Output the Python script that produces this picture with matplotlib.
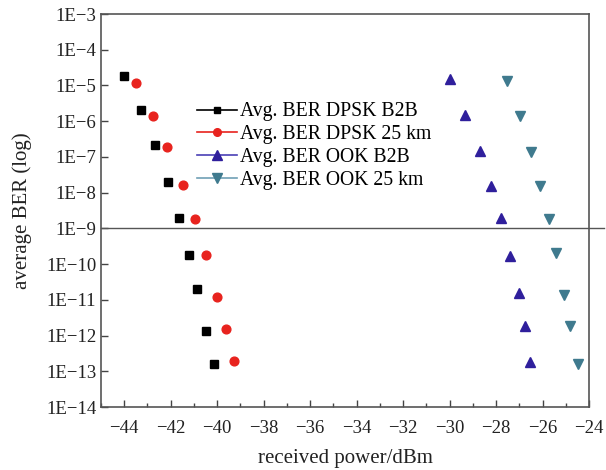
import math
import matplotlib
matplotlib.use("Agg")
import matplotlib.pyplot as plt
from matplotlib.lines import Line2D
from matplotlib.ticker import FixedLocator, FuncFormatter, MultipleLocator

plt.rcParams['font.family'] = ['Liberation Serif', 'DejaVu Serif']

# received power (dBm) and average BER
dpsk_b2b_x = [-43.99, -43.27, -42.66, -42.13, -41.66, -41.23, -40.87, -40.47, -40.15]
dpsk_b2b_y = [1.9e-5, 2.0e-6, 2.1e-7, 2.0e-8, 1.95e-9, 1.84e-10, 2.0e-11, 1.3e-12, 1.57e-13]

dpsk_25_x = [-43.50, -42.78, -42.15, -41.47, -40.97, -40.50, -39.99, -39.63, -39.29]
dpsk_25_y = [1.16e-5, 1.43e-6, 1.95e-7, 1.62e-8, 1.82e-9, 1.84e-10, 1.23e-11, 1.52e-12, 2.0e-13]

ook_b2b_x = [-29.98, -29.33, -28.71, -28.22, -27.79, -27.39, -27.00, -26.77, -26.56]
ook_b2b_y = [1.47e-5, 1.46e-6, 1.47e-7, 1.55e-8, 2.0e-9, 1.73e-10, 1.55e-11, 1.9e-12, 1.8e-13]

ook_25_x = [-27.52, -26.96, -26.49, -26.10, -25.74, -25.41, -25.09, -24.83, -24.47]
ook_25_y = [1.32e-5, 1.36e-6, 1.38e-7, 1.52e-8, 1.8e-9, 2.0e-10, 1.4e-11, 1.8e-12, 1.6e-13]

labels = ["Avg. BER DPSK B2B", "Avg. BER DPSK 25 km",
          "Avg. BER OOK B2B", "Avg. BER OOK 25 km"]
y_exps = list(range(-14, -2))
threshold = 1e-9

fig = plt.figure(figsize=(6.06, 4.70), dpi=100)
ax = fig.add_axes([0.1667, 0.134, 0.8053, 0.8362])

ax.plot(dpsk_b2b_x, dpsk_b2b_y, ls='none', marker='s', ms=5.3, color='black')
ax.plot(dpsk_25_x, dpsk_25_y, ls='none', marker='o', ms=6.3, color='#e8231e')
ax.plot(ook_b2b_x, ook_b2b_y, ls='none', marker='^', ms=7.2, color='#2f1f9c')
ax.plot(ook_25_x, ook_25_y, ls='none', marker='v', ms=7.2, color='#3f7a8e')

# 1E-9 reference line, runs a bit past the right spine
ax.plot([0, 1.03], [threshold, threshold], color='#555555', lw=1.0,
        transform=ax.get_yaxis_transform(), clip_on=False)

ax.set_yscale('log')
ax.set_xlim(-45, -24)
ax.set_ylim(1e-14, 1e-3)
ax.xaxis.set_major_locator(MultipleLocator(2))
ax.xaxis.set_minor_locator(MultipleLocator(1))
ax.xaxis.set_major_formatter(FuncFormatter(lambda v, p: f"\u2212{abs(int(v))}"))
ax.yaxis.set_major_locator(FixedLocator([10.0 ** e for e in y_exps]))
ax.yaxis.set_minor_locator(FixedLocator([]))
ax.yaxis.set_major_formatter(FuncFormatter(
    lambda v, p: "1E\u2212" + str(-int(round(math.log10(v))))))

ax.tick_params(which='both', direction='in', top=False, right=False,
               labelsize=13.5, color='#444444', width=1.0, labelcolor='#222222')
ax.tick_params(which='major', length=5)
ax.tick_params(which='minor', length=3)
ax.tick_params(axis='x', pad=9)
for s in ax.spines.values():
    s.set_color('#555555')
    s.set_linewidth(1.2)

ax.set_xlabel("received power/dBm", fontsize=15, color='#222222', labelpad=9)
ax.set_ylabel("average BER (log)", fontsize=15, color='#222222', labelpad=10)

handles = [
    Line2D([], [], color='black', marker='s', ms=5, lw=1.2),
    Line2D([], [], color='#e8231e', marker='o', ms=5.5, lw=1.2),
    Line2D([], [], color='#4a3fb5', marker='^', ms=6.5, mfc='#2f1f9c', mec='#2f1f9c', lw=1.2),
    Line2D([], [], color='#6fa0b5', marker='v', ms=6.5, mfc='#3f7a8e', mec='#3f7a8e', lw=1.2),
]
ax.legend(handles, labels, loc='upper left', bbox_to_anchor=(0.197, 0.775),
          frameon=False, fontsize=14.2, handlelength=2.0, handletextpad=0.15,
          labelspacing=0.2, borderpad=0, borderaxespad=0)

fig.savefig("out.png", dpi=100)
